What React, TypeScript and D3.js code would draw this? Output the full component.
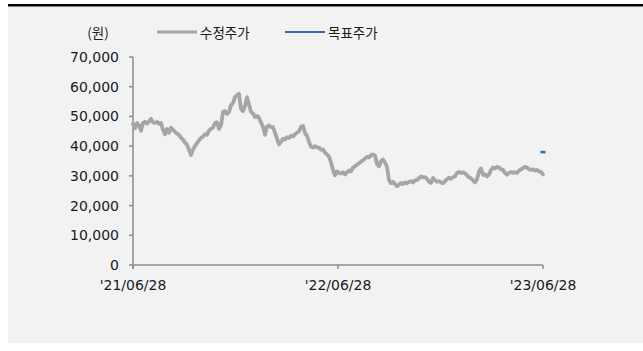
import React from "react";
import * as d3 from "d3";

const priceValues: number[] = [
  47500, 46000, 47800, 47000, 45200, 47800, 48200, 47600, 48300, 49200,
  48000, 47800, 48200, 47500, 47800, 45500, 44000, 45800, 44500, 46200,
  45500, 44800, 44200, 43800, 42800, 42200, 41200, 40500, 38800, 37000,
  38800, 40000, 41000, 42000, 42800, 43200, 44000, 43800, 45200, 45800,
  46200, 47800, 48000, 45800, 47000, 51500, 51800, 50800, 51500, 53800,
  54500, 56500, 57200, 57600, 52500, 51800, 53500, 56500, 54000, 51500,
  51000, 49800, 50200, 49500, 48000, 46500, 43800, 46500, 47000, 46400,
  46400, 44500, 42500, 40600, 41500, 42500, 42200, 43000, 42800, 43500,
  43200, 44000, 44500, 45000, 46500, 46800, 44400, 43500, 41500, 39800,
  39500, 40000, 39600, 39500, 38800, 38900, 37800, 37200, 36500, 34500,
  32000, 30200, 31500, 31000, 30800, 31200, 30500, 31200, 31800, 31500,
  32800, 33200, 33800, 34200, 34800, 35200, 35800, 36400, 36200, 37000,
  37200, 36800, 34000, 33200, 35000, 35500, 34500, 33000, 28500, 27500,
  28000, 27200, 26500, 27000, 27600, 27200, 27800, 27500, 28000, 28200,
  27800, 28500, 28600, 29200, 29800, 29500, 29600, 29000, 28000, 27600,
  29300, 28500, 28000, 28200, 27800, 27500, 28200, 28800, 29400, 29000,
  29500, 29800, 31000, 31300, 31000, 31200, 30800, 30200, 29500, 29200,
  28500, 27800, 28800, 31500, 32500, 30300, 30500, 29800, 30500, 32000,
  32800, 32500, 33000, 32800, 32200, 32000, 31000, 30400, 31000, 31300,
  31000, 31200, 31000, 31800, 32200, 32600, 33000, 32800, 32200, 32000,
  32200, 31800, 32000, 31500, 31300, 30500,
];
const targetValues = [38000];
const xTickLabels = ["'21/06/28", "'22/06/28", "'23/06/28"];
const yTicks = [0, 10000, 20000, 30000, 40000, 50000, 60000, 70000];
const seriesNames = ["수정주가", "목표주가"];
const unitLabel = "(원)";

export default function App() {
  const W = 643, H = 351;
  const left = 133, right = 543, top = 57, bottom = 265;
  const n = priceValues.length;
  const xTickIndex = [0, (n - 1) / 2, n - 1];
  const targetIndex = [n - 1];
  const x = d3.scaleLinear().domain([0, n - 1]).range([left, right]);
  const y = d3.scaleLinear().domain([0, 70000]).range([bottom, top]);
  const line = d3.line<number>().x((_, i) => x(i)).y((d) => y(d));
  const fmt = d3.format(",");
  const numFont = "'DejaVu Sans', sans-serif";
  const krFont = "'Noto Sans CJK KR', sans-serif";
  const axisColor = "#8c8c8c";
  const txt = "#1a1a1a";
  const gray = "#a6a6a6";
  const blue = "#2e6fb3";
  return (
    <svg width={W} height={H} style={{ position: "absolute", left: 0, top: 0, background: "#fff" }}>
      <rect x={8} y={7} width={W - 8} height={336} fill="#f2f2f2" />
      <line x1={8} x2={W} y1={5.3} y2={5.3} stroke="#000" strokeWidth={2.6} />
      {/* legend */}
      <text x={98} y={32} fontFamily={krFont} fontSize={13.5} fill={txt} textAnchor="middle" dominantBaseline="central">{unitLabel}</text>
      <line x1={157} x2={197} y1={32} y2={32} stroke={gray} strokeWidth={3.2} />
      <text x={200} y={32} fontFamily={krFont} fontSize={13.5} fill={txt} dominantBaseline="central">{seriesNames[0]}</text>
      <line x1={285} x2={325} y1={32} y2={32} stroke={blue} strokeWidth={2} />
      <text x={328} y={32} fontFamily={krFont} fontSize={13.5} fill={txt} dominantBaseline="central">{seriesNames[1]}</text>
      {/* y axis */}
      <line x1={left} x2={left} y1={top} y2={bottom + 4} stroke={axisColor} strokeWidth={1.5} />
      {yTicks.map((t) => (
        <g key={t}>
          <line x1={left - 4} x2={left} y1={y(t)} y2={y(t)} stroke={axisColor} strokeWidth={1.5} />
          <text x={119} y={y(t)} fontFamily={numFont} fontSize={14} fill={txt} textAnchor="end" dominantBaseline="central">{fmt(t)}</text>
        </g>
      ))}
      {/* x axis */}
      <line x1={left} x2={right} y1={bottom} y2={bottom} stroke={axisColor} strokeWidth={1.5} />
      {xTickIndex.map((t, i) => (
        <g key={i}>
          <line x1={x(t)} x2={x(t)} y1={bottom} y2={bottom + 4} stroke={axisColor} strokeWidth={1.5} />
          <text x={x(t)} y={285} fontFamily={numFont} fontSize={14} fill={txt} textAnchor="middle" dominantBaseline="central">{xTickLabels[i]}</text>
        </g>
      ))}
      {/* price line */}
      <path d={line(priceValues) || ""} fill="none" stroke={gray} strokeWidth={3.8} strokeLinejoin="round" strokeLinecap="round" />
      {/* target price */}
      {targetIndex.map((ti, i) => (
        <line key={ti} x1={x(ti) - 2.5} x2={x(ti) + 2.5} y1={y(targetValues[i])} y2={y(targetValues[i])} stroke={blue} strokeWidth={2.6} />
      ))}
    </svg>
  );
}
